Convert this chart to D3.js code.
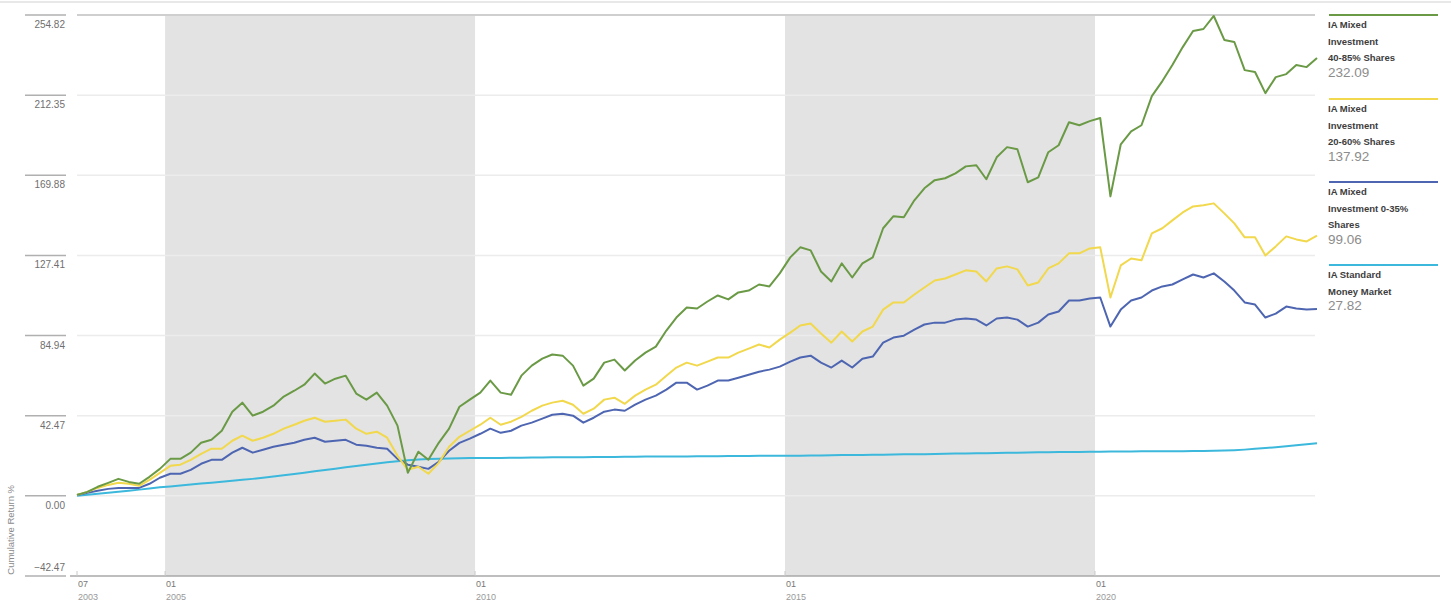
<!DOCTYPE html>
<html>
<head>
<meta charset="utf-8">
<script src="https://cdn.jsdelivr.net/npm/d3@7"></script>
<style>
  html, body { margin: 0; padding: 0; background: #fff; }
  svg { display: block; font-family: "Liberation Sans", Arial, sans-serif; }
</style>
</head>
<body>
<div id="chart"></div>
<script>
// bi-monthly month-end readings, Jul 2003 .. Jul 2023
const firstDate = new Date(2003, 7, 1);
const lastDate = new Date(2023, 7, 1);

const mixed4085 = [
  0.5, 2.1, 4.8, 6.9, 9.0, 7.4, 6.4, 10.1, 14.3, 19.6,
  19.6, 22.9, 28.1, 29.7, 34.5, 44.6, 49.4, 42.5, 44.6, 47.8,
  52.6, 55.7, 58.9, 64.8, 59.5, 62.1, 63.7, 54.2, 51.0, 54.7,
  47.8, 37.2, 12.2, 23.4, 19.1, 28.1, 35.6, 47.2, 51.0, 54.7,
  61.1, 54.7, 53.6, 63.7, 69.0, 72.7, 74.9, 74.3, 69.0, 58.4,
  62.1, 70.6, 72.2, 66.4, 71.7, 75.9, 79.1, 87.6, 94.5, 99.8,
  99.3, 103.0, 106.2, 104.1, 107.8, 108.8, 112.0, 111.0, 117.9, 126.4,
  131.7, 130.1, 118.9, 113.6, 123.2, 115.7, 123.2, 126.4, 141.8, 148.2,
  147.6, 156.6, 163.0, 167.3, 168.3, 170.9, 174.6, 175.2, 167.8, 179.4,
  184.8, 183.7, 166.2, 168.8, 182.1, 185.8, 198.0, 196.4, 198.6, 200.2,
  158.7, 186.3, 193.2, 196.4, 211.8, 219.8, 228.3, 237.8, 246.3, 247.4,
  254.3, 241.6, 240.5, 225.6, 224.6, 213.4, 221.9, 223.5, 228.3, 227.2,
  232.09
];

const mixed2060 = [
  0.5, 2.1, 4.2, 5.8, 6.9, 6.4, 5.3, 8.5, 12.2, 15.9,
  16.5, 19.1, 22.3, 25.0, 25.0, 29.2, 31.9, 29.2, 30.8, 32.9,
  35.6, 37.7, 39.8, 41.4, 39.3, 39.8, 40.4, 35.6, 32.9, 34.0,
  30.8, 21.2, 13.8, 15.4, 11.7, 17.5, 26.0, 31.3, 34.5, 37.7,
  41.4, 37.7, 39.3, 41.9, 45.1, 47.8, 49.4, 50.4, 48.3, 43.5,
  46.2, 51.0, 52.0, 48.8, 53.1, 56.3, 58.9, 63.7, 68.0, 70.6,
  69.0, 71.1, 73.3, 73.3, 75.9, 78.0, 80.2, 78.6, 82.8, 86.5,
  90.3, 91.3, 86.0, 81.2, 87.1, 81.8, 87.1, 89.7, 98.7, 102.5,
  102.5, 106.7, 110.4, 114.1, 115.2, 117.3, 119.5, 118.9, 113.6, 120.5,
  121.6, 120.0, 111.5, 113.1, 120.5, 123.2, 128.5, 128.5, 131.1, 131.7,
  105.1, 122.1, 125.8, 124.8, 139.1, 141.8, 146.0, 150.2, 153.4, 154.0,
  155.0, 149.7, 144.4, 137.0, 137.0, 127.4, 132.2, 137.5, 135.9, 134.8,
  137.92
];

const mixed035 = [
  0.5, 1.6, 2.7, 3.7, 4.2, 4.2, 4.2, 6.4, 9.6, 11.7,
  11.7, 13.8, 17.0, 19.1, 19.1, 22.9, 25.5, 22.9, 24.4, 26.0,
  27.1, 28.1, 29.7, 30.8, 28.7, 29.2, 29.7, 27.1, 26.5, 25.5,
  25.0, 19.6, 16.5, 15.4, 14.3, 18.1, 23.9, 28.1, 30.3, 32.9,
  35.6, 33.4, 34.5, 37.2, 38.8, 40.9, 43.0, 43.5, 42.5, 38.8,
  41.4, 44.6, 45.7, 45.1, 48.3, 51.0, 53.1, 56.3, 60.0, 60.0,
  56.3, 58.4, 61.1, 61.1, 62.6, 64.2, 65.8, 66.9, 68.5, 71.1,
  73.3, 74.3, 70.6, 68.0, 71.7, 68.0, 72.7, 73.8, 81.2, 83.9,
  84.9, 88.1, 90.8, 91.8, 91.8, 93.4, 94.0, 93.4, 90.3, 94.0,
  94.5, 93.4, 89.7, 91.8, 96.1, 97.7, 103.5, 103.5, 104.6, 105.1,
  89.7, 98.7, 103.5, 105.1, 108.8, 111.0, 112.0, 114.7, 117.3, 115.7,
  117.9, 113.6, 108.8, 102.5, 101.4, 94.5, 96.6, 100.3, 99.3, 98.7,
  99.06
];

const moneyMarket = [
  0.0, 0.6, 1.1, 1.6, 2.2, 2.7, 3.3, 3.9, 4.5, 5.0,
  5.5, 6.0, 6.5, 7.0, 7.5, 8.0, 8.5, 9.0, 9.6, 10.2,
  10.9, 11.6, 12.3, 13.0, 13.7, 14.4, 15.1, 15.8, 16.5, 17.2,
  17.8, 18.4, 18.9, 19.3, 19.5, 19.7, 19.8, 19.9, 20.0, 20.0,
  20.1, 20.1, 20.2, 20.2, 20.3, 20.3, 20.4, 20.4, 20.5, 20.5,
  20.6, 20.6, 20.6, 20.7, 20.7, 20.8, 20.8, 20.8, 20.9, 20.9,
  21.0, 21.0, 21.0, 21.1, 21.1, 21.1, 21.2, 21.2, 21.2, 21.3,
  21.3, 21.4, 21.4, 21.5, 21.6, 21.6, 21.7, 21.8, 21.8, 21.9,
  22.0, 22.0, 22.1, 22.2, 22.3, 22.4, 22.5, 22.6, 22.6, 22.7,
  22.8, 22.9, 23.0, 23.1, 23.1, 23.2, 23.3, 23.3, 23.4, 23.4,
  23.5, 23.5, 23.5, 23.6, 23.6, 23.6, 23.7, 23.7, 23.8, 23.8,
  23.9, 24.0, 24.2, 24.5, 24.9, 25.3, 25.8, 26.3, 26.8, 27.3,
  27.82
];

const seriesNames = [
  ["IA Mixed", "Investment", "40-85% Shares"],
  ["IA Mixed", "Investment", "20-60% Shares"],
  ["IA Mixed", "Investment 0-35%", "Shares"],
  ["IA Standard", "Money Market"]
];
const seriesValues = [mixed4085, mixed2060, mixed035, moneyMarket];
const seriesColors = ["#6a9a45", "#f1d84c", "#4e66b2", "#3cb8dc"];

const yTicks = [-42.47, 0, 42.47, 84.94, 127.41, 169.88, 212.35, 254.82];
const xTickDates = ["2003-08-01", "2005-01-01", "2010-01-01", "2015-01-01", "2020-01-01"];
const xTickLabels = [["07", "2003"], ["01", "2005"], ["01", "2010"], ["01", "2015"], ["01", "2020"]];
const shadedPeriods = [["2005-01-01", "2010-01-01"], ["2015-01-01", "2020-01-01"]];

const width = 1451, height = 606;
const plotLeft = 77, plotRight = 1317, plotTop = 15, plotBottom = 576;

const dates = d3.timeMonth.range(firstDate, d3.timeMonth.offset(lastDate, 1), 2);
const parse = d3.timeParse("%Y-%m-%d");

const x = d3.scaleTime([firstDate, lastDate], [plotLeft, plotRight]);
const y = d3.scaleLinear([yTicks[0], yTicks[yTicks.length - 1]], [plotBottom, plotTop]);

const svg = d3.select("#chart").append("svg")
  .attr("width", width)
  .attr("height", height)
  .attr("viewBox", [0, 0, width, height]);

// faint frame line at the top
svg.append("line")
  .attr("x1", 0).attr("x2", width)
  .attr("y1", 2).attr("y2", 2)
  .attr("stroke", "#e8e8e8").attr("stroke-width", 2);

// shaded 5-year bands
svg.append("g")
  .selectAll("rect")
  .data(shadedPeriods)
  .join("rect")
  .attr("x", (d) => x(parse(d[0])))
  .attr("width", (d) => x(parse(d[1])) - x(parse(d[0])))
  .attr("y", plotTop)
  .attr("height", plotBottom - plotTop)
  .attr("fill", "#e3e3e3");

// grid lines
svg.append("g")
  .selectAll("line")
  .data(yTicks.slice(1))
  .join("line")
  .attr("x1", plotLeft).attr("x2", plotRight - 2)
  .attr("y1", (d) => y(d)).attr("y2", (d) => y(d))
  .attr("stroke", (d, i) => (i === yTicks.length - 2 ? "#cfcfcf" : "#ececec"))
  .attr("stroke-width", (d, i) => (i === yTicks.length - 2 ? 2 : 1.5));

// y axis: short rules with labels under them
const yAxis = svg.append("g");
yAxis.selectAll("line")
  .data(yTicks)
  .join("line")
  .attr("x1", 25).attr("x2", 66)
  .attr("y1", (d) => y(d)).attr("y2", (d) => y(d))
  .attr("stroke", "#b0b0b0").attr("stroke-width", 1.5);
yAxis.selectAll("text")
  .data(yTicks)
  .join("text")
  .attr("x", 65)
  .attr("y", (d, i) => (i === 0 ? y(d) - 5 : y(d) + 13))
  .attr("text-anchor", "end")
  .attr("font-size", 10)
  .attr("fill", "#6f6f6f")
  .text((d) => (d < 0 ? "\u2212" + Math.abs(d).toFixed(2) : d.toFixed(2)));

svg.append("text")
  .attr("transform", `translate(14,${y(-18)}) rotate(-90)`)
  .attr("text-anchor", "middle")
  .attr("font-size", 9.5)
  .attr("fill", "#8a8a8a")
  .text("Cumulative Return %");

// x axis
svg.append("line")
  .attr("x1", 70).attr("x2", 1440)
  .attr("y1", plotBottom).attr("y2", plotBottom)
  .attr("stroke", "#a8a8a8").attr("stroke-width", 1.5);

const xAxis = svg.append("g")
  .selectAll("g")
  .data(xTickDates)
  .join("g")
  .attr("transform", (d) => `translate(${x(parse(d))},${plotBottom})`);
xAxis.append("line")
  .attr("y1", -5).attr("y2", 0)
  .attr("stroke", "#c8c8c8");
xAxis.append("text")
  .attr("x", 1).attr("y", 11)
  .attr("font-size", 9)
  .attr("fill", "#777")
  .text((d, i) => xTickLabels[i][0]);
xAxis.append("text")
  .attr("x", 1).attr("y", 24)
  .attr("font-size", 9)
  .attr("fill", "#999")
  .text((d, i) => xTickLabels[i][1]);

// lines (money market first so it sits underneath)
const line = d3.line()
  .x((d, i) => x(dates[i]))
  .y((d) => y(d));

svg.append("g")
  .selectAll("path")
  .data([3, 2, 1, 0])
  .join("path")
  .attr("d", (k) => line(seriesValues[k]))
  .attr("fill", "none")
  .attr("stroke", (k) => seriesColors[k])
  .attr("stroke-width", 2)
  .attr("stroke-linejoin", "round");

// legend
const legendTops = [15, 99, 182, 265];
const legend = svg.append("g")
  .selectAll("g")
  .data(seriesNames)
  .join("g")
  .attr("transform", (d, i) => `translate(1328,${legendTops[i]})`);
legend.append("line")
  .attr("x1", 1).attr("x2", 110)
  .attr("stroke", (d, i) => seriesColors[i])
  .attr("stroke-width", 2);
legend.each(function (names, i) {
  const g = d3.select(this);
  names.forEach((t, j) => {
    g.append("text")
      .attr("x", 0).attr("y", 13 + j * 16.5)
      .attr("font-size", 9.5)
      .attr("font-weight", 700)
      .attr("fill", "#3d3d3d")
      .text(t);
  });
  const last = seriesValues[i][seriesValues[i].length - 1];
  g.append("text")
    .attr("x", 0).attr("y", 13 + names.length * 16.5 - 1)
    .attr("font-size", 13.5)
    .attr("fill", "#8c8c8c")
    .text(last.toFixed(2));
});
</script>
</body>
</html>
